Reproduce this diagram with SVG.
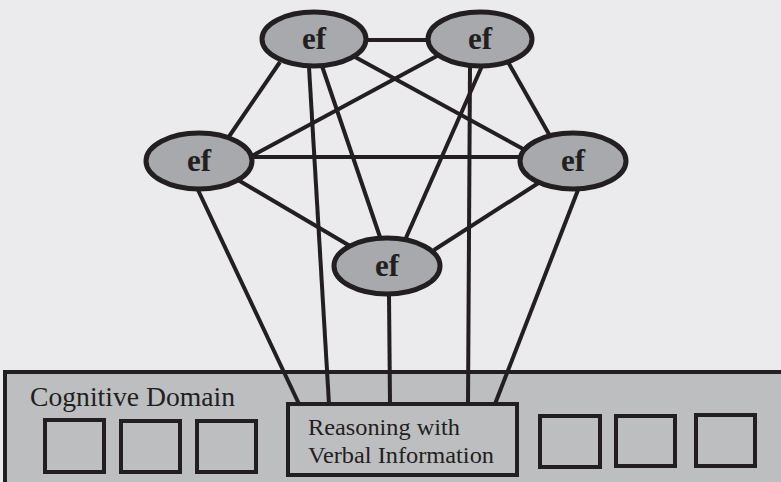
<svg xmlns="http://www.w3.org/2000/svg" width="781" height="482" viewBox="0 0 781 482">
<style>
.edge{stroke:#231f20;stroke-width:4;fill:none}
.node{fill:#a7a9ac;stroke:#231f20;stroke-width:5}
.lbl{font-family:"Liberation Serif",serif;font-weight:bold;font-size:31px;fill:#231f20;text-anchor:middle}
.box{fill:none;stroke:#231f20;stroke-width:4}
.txt{font-family:"Liberation Serif",serif;font-size:24px;fill:#231f20}
.title{font-family:"Liberation Serif",serif;font-size:28px;fill:#231f20}
</style>
<rect x="0" y="0" width="781" height="482" fill="#ebebed"/>
<g id="panel">
<rect x="5" y="372" width="790" height="120" fill="#bcbec0" stroke="#231f20" stroke-width="4"/>
<text class="title" x="30" y="406" textLength="205" lengthAdjust="spacingAndGlyphs">Cognitive Domain</text>
<rect class="box" x="45" y="420" width="59" height="52"/>
<rect class="box" x="121" y="421" width="59" height="51"/>
<rect class="box" x="197" y="421" width="59" height="51"/>
<rect class="box" x="540" y="416" width="60" height="51"/>
<rect class="box" x="616" y="416" width="59" height="50"/>
<rect class="box" x="696" y="415" width="59" height="51"/>
</g>
<g id="connectors">
<line class="edge" x1="366" y1="40" x2="427" y2="40"/>
<line class="edge" x1="280" y1="62" x2="228" y2="138"/>
<line class="edge" x1="355" y1="57" x2="525" y2="150"/>
<line class="edge" x1="437" y1="56" x2="250" y2="157"/>
<line class="edge" x1="508" y1="62" x2="550" y2="136"/>
<line class="edge" x1="252" y1="157" x2="520" y2="157"/>
<line class="edge" x1="238" y1="180" x2="350" y2="246"/>
<line class="edge" x1="540" y1="182" x2="434" y2="250"/>
<line class="edge" x1="322" y1="66" x2="381" y2="240"/>
<line class="edge" x1="482" y1="66" x2="405" y2="240"/>
<line class="edge" x1="309" y1="67" x2="329" y2="404"/>
<line class="edge" x1="470" y1="66" x2="468" y2="404"/>
<line class="edge" x1="389" y1="295" x2="390" y2="404"/>
<line class="edge" x1="198" y1="190" x2="299" y2="404"/>
<line class="edge" x1="578" y1="190" x2="495" y2="404"/>
</g>
<g id="reasoning">
<rect x="288" y="404" width="229" height="71" fill="#bcbec0" stroke="#231f20" stroke-width="4"/>
<text class="txt" x="308" y="435" textLength="152" lengthAdjust="spacingAndGlyphs">Reasoning with</text>
<text class="txt" x="308" y="463" textLength="186" lengthAdjust="spacingAndGlyphs">Verbal Information</text>
</g>
<g id="ef1"><ellipse class="node" cx="314" cy="39" rx="52" ry="27"/><text class="lbl" x="314" y="49">ef</text></g>
<g id="ef2"><ellipse class="node" cx="480" cy="39" rx="52" ry="27"/><text class="lbl" x="480" y="49">ef</text></g>
<g id="ef3"><ellipse class="node" cx="199" cy="161" rx="53" ry="28"/><text class="lbl" x="199" y="171">ef</text></g>
<g id="ef4"><ellipse class="node" cx="573" cy="161" rx="53" ry="28"/><text class="lbl" x="573" y="171">ef</text></g>
<g id="ef5"><ellipse class="node" cx="387" cy="266" rx="53" ry="28"/><text class="lbl" x="387" y="276">ef</text></g>
</svg>
